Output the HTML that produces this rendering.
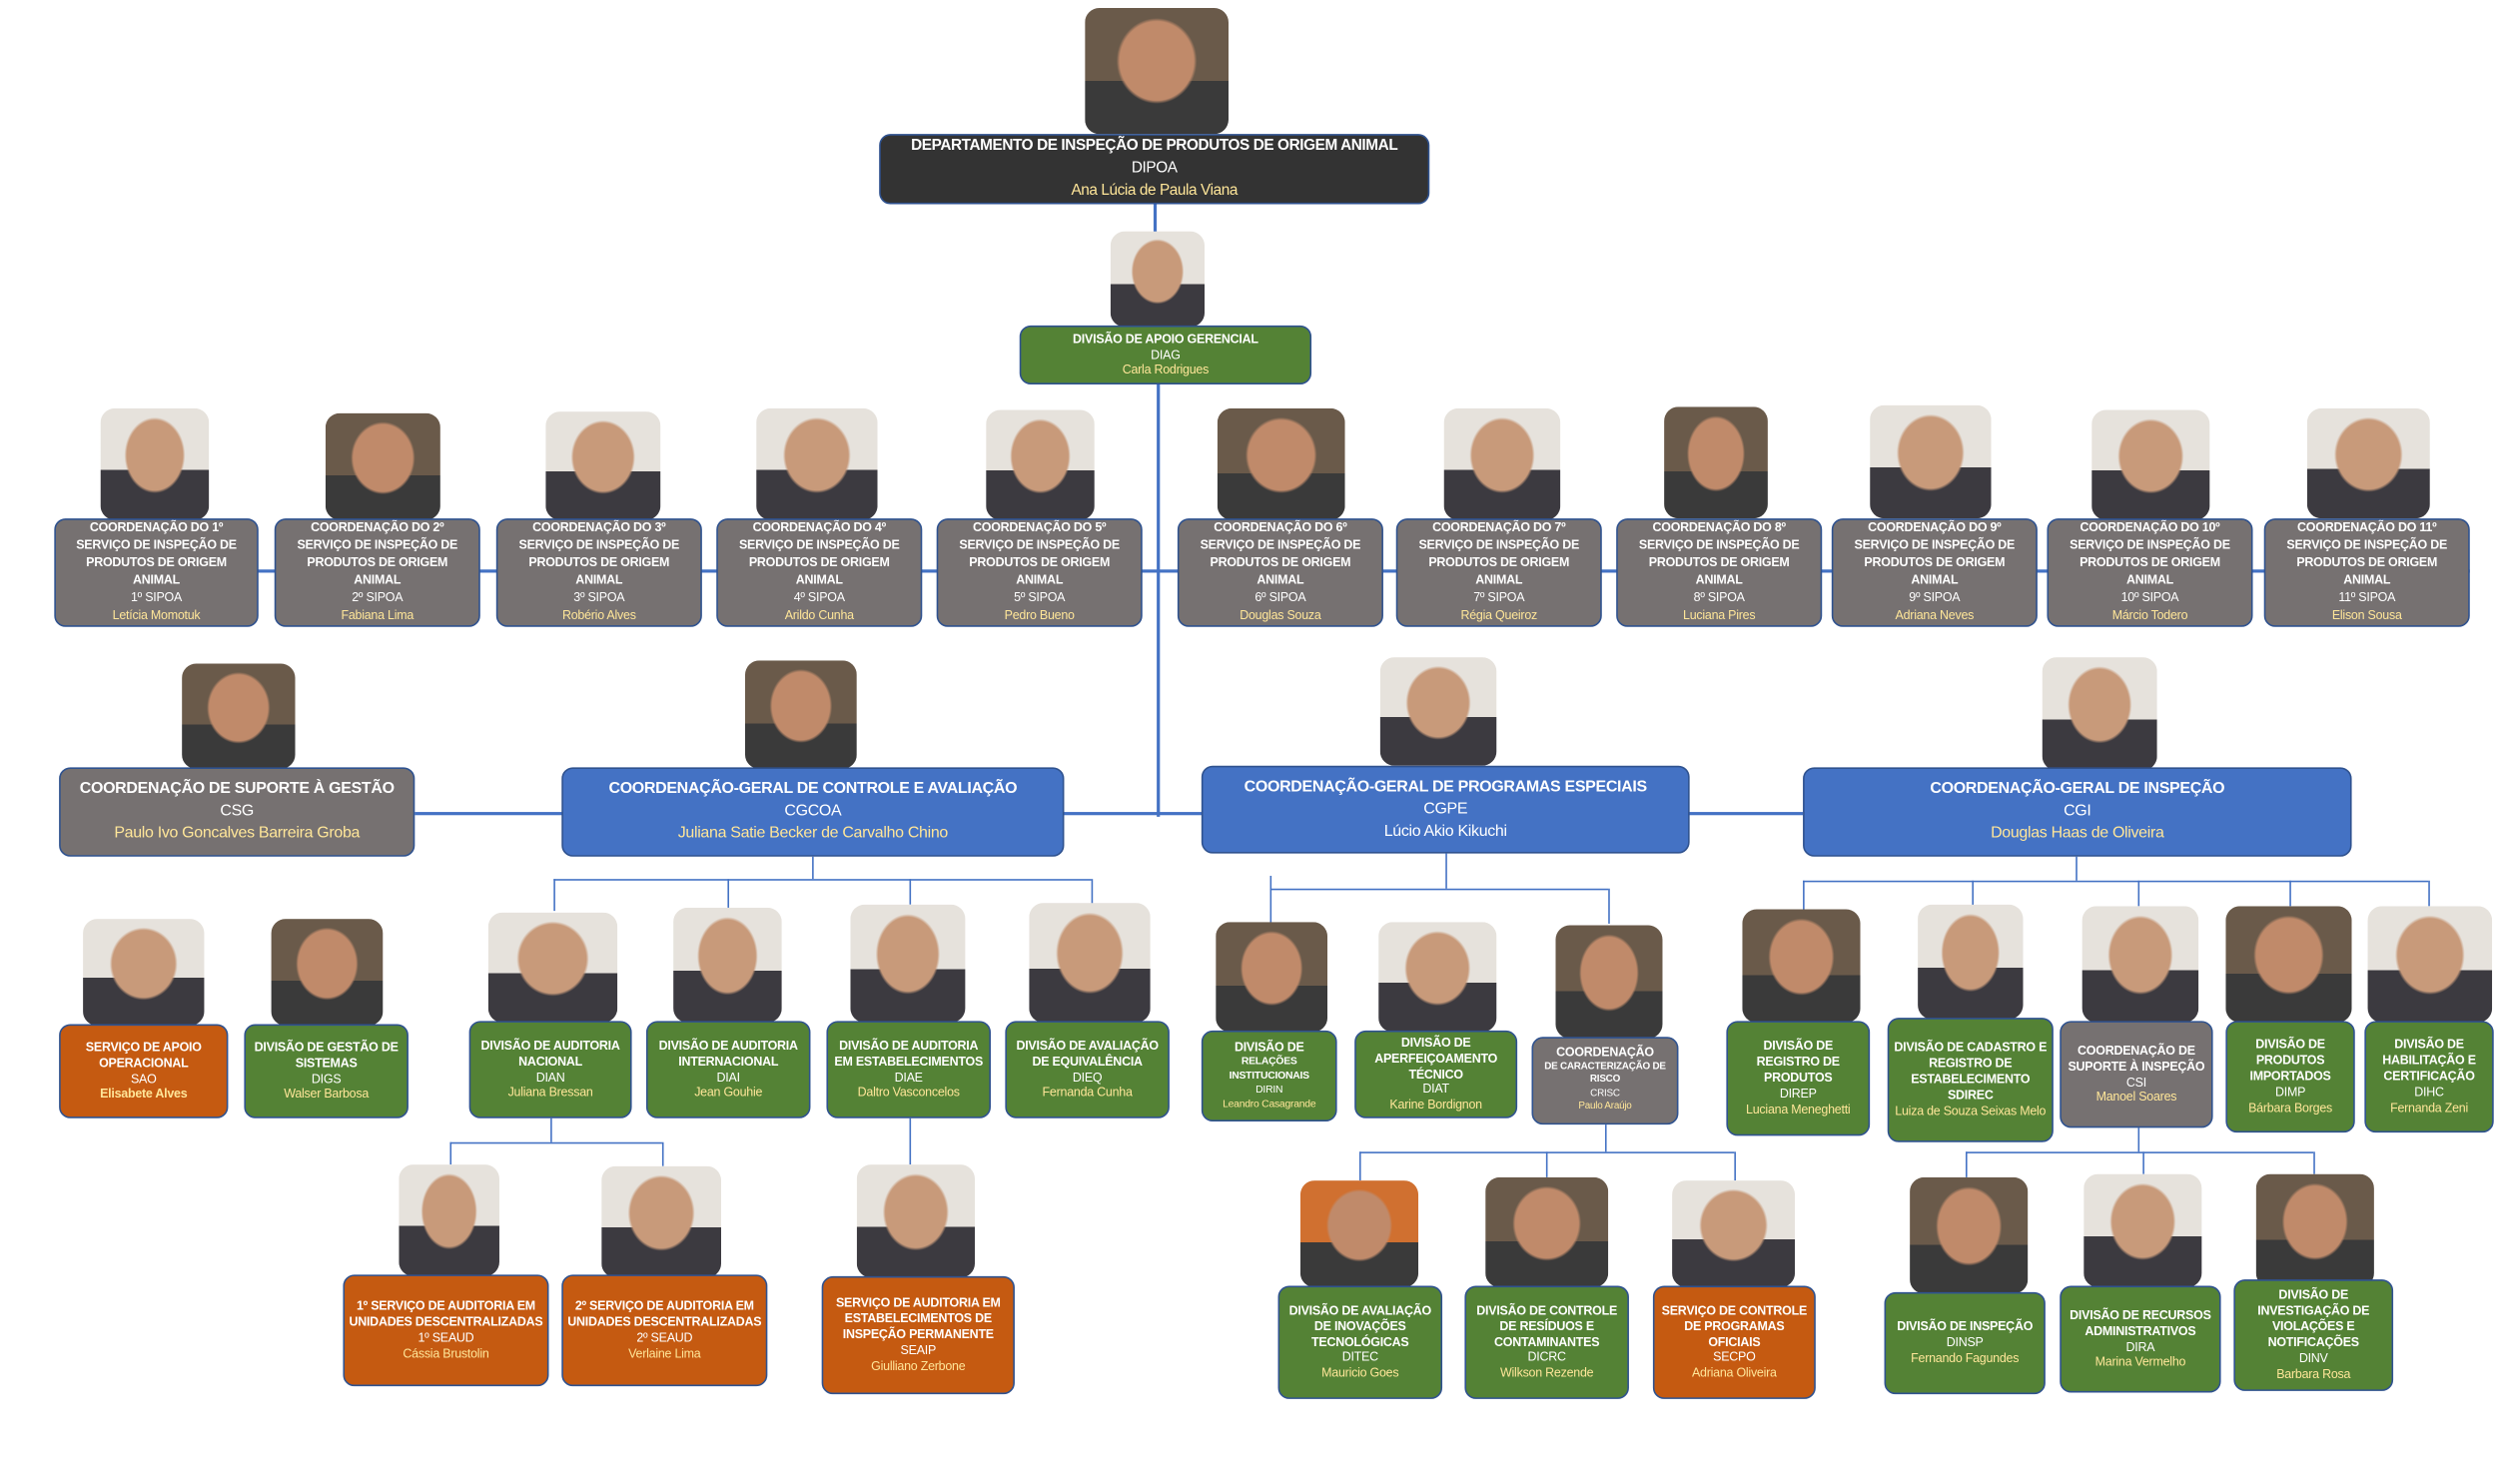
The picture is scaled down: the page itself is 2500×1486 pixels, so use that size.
<!DOCTYPE html>
<html><head><meta charset="utf-8"><style>
html,body{margin:0;padding:0;background:#fff;width:2500px;height:1485px;overflow:hidden}
#w{position:absolute;left:0;top:0;width:1565px;height:930px;transform:scale(1.5974);transform-origin:0 0;font-family:"Liberation Sans",sans-serif}
.b{position:absolute;box-sizing:border-box;border:1px solid #2f528f;border-radius:7px;color:#fff;text-align:center;display:flex;flex-direction:column;justify-content:center;font-size:7.8px;line-height:9.9px;letter-spacing:-0.15px;overflow:hidden;padding:0 2px}
.b b{font-weight:bold}
.y{color:#ffe699}
.g{background:#548235}.k{background:#767171}.u{background:#4472c4}.o{background:#c55a11}.d{background:#333}
.s{padding:0 12px;line-height:10.9px}
.p{position:absolute;border-radius:9px;background:radial-gradient(ellipse 28% 34% at 50% 42%,#c89a7a 0 92%,transparent 100%),linear-gradient(#e6e2dc 0 55%,#3c3a40 55%)}
.p.dk{background:radial-gradient(ellipse 28% 34% at 50% 42%,#c08a6a 0 92%,transparent 100%),linear-gradient(#6a5a4a 0 58%,#3a3a3a 58%)}
.l{position:absolute;background:#4472c4}
.big{font-size:10px;line-height:14px;letter-spacing:-0.2px}
.top{font-size:9.6px;line-height:14px;letter-spacing:-0.25px}
</style></head><body><div id="w">
<div class="l" style="left:723px;top:127px;width:2px;height:19px"></div>
<div class="l" style="left:725px;top:240px;width:2px;height:272px"></div>
<div class="l" style="left:100px;top:357px;width:1448px;height:2px"></div>
<div class="l" style="left:260px;top:509px;width:870px;height:2px"></div>
<div class="l" style="left:509px;top:537px;width:1px;height:14px"></div>
<div class="l" style="left:347px;top:551px;width:337px;height:1px"></div>
<div class="l" style="left:347px;top:551px;width:1px;height:20px"></div>
<div class="l" style="left:456px;top:551px;width:1px;height:18px"></div>
<div class="l" style="left:570px;top:551px;width:1px;height:16px"></div>
<div class="l" style="left:684px;top:551px;width:1px;height:16px"></div>
<div class="l" style="left:906px;top:535px;width:1px;height:22px"></div>
<div class="l" style="left:796px;top:557px;width:212px;height:1px"></div>
<div class="l" style="left:796px;top:549px;width:1px;height:30px"></div>
<div class="l" style="left:1008px;top:557px;width:1px;height:22px"></div>
<div class="l" style="left:1301px;top:537px;width:1px;height:15px"></div>
<div class="l" style="left:1130px;top:552px;width:392px;height:1px"></div>
<div class="l" style="left:1130px;top:552px;width:1px;height:18px"></div>
<div class="l" style="left:1236px;top:552px;width:1px;height:16px"></div>
<div class="l" style="left:1340px;top:552px;width:1px;height:16px"></div>
<div class="l" style="left:1435px;top:552px;width:1px;height:16px"></div>
<div class="l" style="left:1522px;top:552px;width:1px;height:16px"></div>
<div class="l" style="left:345px;top:701px;width:1px;height:15px"></div>
<div class="l" style="left:282px;top:716px;width:133px;height:1px"></div>
<div class="l" style="left:282px;top:716px;width:1px;height:14px"></div>
<div class="l" style="left:415px;top:716px;width:1px;height:15px"></div>
<div class="l" style="left:570px;top:701px;width:1px;height:29px"></div>
<div class="l" style="left:1006px;top:705px;width:1px;height:17px"></div>
<div class="l" style="left:852px;top:722px;width:235px;height:1px"></div>
<div class="l" style="left:852px;top:722px;width:1px;height:18px"></div>
<div class="l" style="left:969px;top:722px;width:1px;height:16px"></div>
<div class="l" style="left:1087px;top:722px;width:1px;height:18px"></div>
<div class="l" style="left:1340px;top:707px;width:1px;height:15px"></div>
<div class="l" style="left:1232px;top:722px;width:218px;height:1px"></div>
<div class="l" style="left:1232px;top:722px;width:1px;height:16px"></div>
<div class="l" style="left:1343px;top:722px;width:1px;height:14px"></div>
<div class="l" style="left:1450px;top:722px;width:1px;height:14px"></div>

<div class="p dk" style="left:680px;top:5px;width:90px;height:79px"></div>
<div class="b d top" style="left:551px;top:84px;width:345px;height:44px"><b style="white-space:nowrap">DEPARTAMENTO DE INSPEÇÃO DE PRODUTOS DE ORIGEM ANIMAL</b><span>DIPOA</span><span class="y">Ana Lúcia de Paula Viana</span></div>
<div class="p" style="left:696px;top:145px;width:59px;height:60px"></div>
<div class="b g" style="left:639px;top:204px;width:183px;height:37px"><b>DIVISÃO DE APOIO GERENCIAL</b><span>DIAG</span><span class="y">Carla Rodrigues</span></div>

<div class="p" style="left:63px;top:256px;width:68px;height:70px"></div>
<div class="b k s" style="left:34px;top:325px;width:128px;height:68px"><b>COORDENAÇÃO DO 1º SERVIÇO DE INSPEÇÃO DE PRODUTOS DE ORIGEM ANIMAL</b><span>1º SIPOA</span><span class="y">Letícia Momotuk</span></div>
<div class="p dk" style="left:204px;top:259px;width:72px;height:67px"></div>
<div class="b k s" style="left:172px;top:325px;width:129px;height:68px"><b>COORDENAÇÃO DO 2º SERVIÇO DE INSPEÇÃO DE PRODUTOS DE ORIGEM ANIMAL</b><span>2º SIPOA</span><span class="y">Fabiana Lima</span></div>
<div class="p" style="left:342px;top:258px;width:72px;height:68px"></div>
<div class="b k s" style="left:311px;top:325px;width:129px;height:68px"><b>COORDENAÇÃO DO 3º SERVIÇO DE INSPEÇÃO DE PRODUTOS DE ORIGEM ANIMAL</b><span>3º SIPOA</span><span class="y">Robério Alves</span></div>
<div class="p" style="left:474px;top:256px;width:76px;height:70px"></div>
<div class="b k s" style="left:449px;top:325px;width:129px;height:68px"><b>COORDENAÇÃO DO 4º SERVIÇO DE INSPEÇÃO DE PRODUTOS DE ORIGEM ANIMAL</b><span>4º SIPOA</span><span class="y">Arildo Cunha</span></div>
<div class="p" style="left:618px;top:257px;width:68px;height:69px"></div>
<div class="b k s" style="left:587px;top:325px;width:129px;height:68px"><b>COORDENAÇÃO DO 5º SERVIÇO DE INSPEÇÃO DE PRODUTOS DE ORIGEM ANIMAL</b><span>5º SIPOA</span><span class="y">Pedro Bueno</span></div>
<div class="p dk" style="left:763px;top:256px;width:80px;height:70px"></div>
<div class="b k s" style="left:738px;top:325px;width:129px;height:68px"><b>COORDENAÇÃO DO 6º SERVIÇO DE INSPEÇÃO DE PRODUTOS DE ORIGEM ANIMAL</b><span>6º SIPOA</span><span class="y">Douglas Souza</span></div>
<div class="p" style="left:905px;top:256px;width:73px;height:70px"></div>
<div class="b k s" style="left:875px;top:325px;width:129px;height:68px"><b>COORDENAÇÃO DO 7º SERVIÇO DE INSPEÇÃO DE PRODUTOS DE ORIGEM ANIMAL</b><span>7º SIPOA</span><span class="y">Régia Queiroz</span></div>
<div class="p dk" style="left:1043px;top:255px;width:65px;height:70px"></div>
<div class="b k s" style="left:1013px;top:325px;width:129px;height:68px"><b>COORDENAÇÃO DO 8º SERVIÇO DE INSPEÇÃO DE PRODUTOS DE ORIGEM ANIMAL</b><span>8º SIPOA</span><span class="y">Luciana Pires</span></div>
<div class="p" style="left:1172px;top:254px;width:76px;height:71px"></div>
<div class="b k s" style="left:1148px;top:325px;width:129px;height:68px"><b>COORDENAÇÃO DO 9º SERVIÇO DE INSPEÇÃO DE PRODUTOS DE ORIGEM ANIMAL</b><span>9º SIPOA</span><span class="y">Adriana Neves</span></div>
<div class="p" style="left:1311px;top:257px;width:74px;height:69px"></div>
<div class="b k s" style="left:1283px;top:325px;width:129px;height:68px"><b>COORDENAÇÃO DO 10º SERVIÇO DE INSPEÇÃO DE PRODUTOS DE ORIGEM ANIMAL</b><span>10º SIPOA</span><span class="y">Márcio Todero</span></div>
<div class="p" style="left:1446px;top:256px;width:77px;height:69px"></div>
<div class="b k s" style="left:1419px;top:325px;width:129px;height:68px"><b>COORDENAÇÃO DO 11º SERVIÇO DE INSPEÇÃO DE PRODUTOS DE ORIGEM ANIMAL</b><span>11º SIPOA</span><span class="y">Elison Sousa</span></div>

<div class="p dk" style="left:114px;top:416px;width:71px;height:66px"></div>
<div class="b k big" style="left:37px;top:481px;width:223px;height:56px"><b>COORDENAÇÃO DE SUPORTE À GESTÃO</b><span>CSG</span><span class="y">Paulo Ivo Goncalves Barreira Groba</span></div>
<div class="p dk" style="left:467px;top:414px;width:70px;height:68px"></div>
<div class="b u big" style="left:352px;top:481px;width:315px;height:56px"><b>COORDENAÇÃO-GERAL DE CONTROLE E AVALIAÇÃO</b><span>CGCOA</span><span class="y">Juliana Satie Becker de Carvalho Chino</span></div>
<div class="p" style="left:865px;top:412px;width:73px;height:68px"></div>
<div class="b u big" style="left:753px;top:480px;width:306px;height:55px"><b>COORDENAÇÃO-GERAL DE PROGRAMAS ESPECIAIS</b><span>CGPE</span><span>Lúcio Akio Kikuchi</span></div>
<div class="p" style="left:1280px;top:412px;width:72px;height:71px"></div>
<div class="b u big" style="left:1130px;top:481px;width:344px;height:56px"><b>COORDENAÇÃO-GERAL DE INSPEÇÃO</b><span>CGI</span><span class="y">Douglas Haas de Oliveira</span></div>

<div class="p" style="left:52px;top:576px;width:76px;height:67px"></div>
<div class="b o" style="left:37px;top:642px;width:106px;height:59px"><b>SERVIÇO DE APOIO OPERACIONAL</b><span>SAO</span><b class="y">Elisabete Alves</b></div>
<div class="p dk" style="left:170px;top:576px;width:70px;height:67px"></div>
<div class="b g" style="left:153px;top:642px;width:103px;height:59px"><b>DIVISÃO DE GESTÃO DE SISTEMAS</b><span>DIGS</span><span class="y">Walser Barbosa</span></div>
<div class="p" style="left:306px;top:572px;width:81px;height:69px"></div>
<div class="b g" style="left:294px;top:640px;width:102px;height:61px"><b>DIVISÃO DE AUDITORIA NACIONAL</b><span>DIAN</span><span class="y">Juliana Bressan</span></div>
<div class="p" style="left:422px;top:569px;width:68px;height:72px"></div>
<div class="b g" style="left:405px;top:640px;width:103px;height:61px"><b>DIVISÃO DE AUDITORIA INTERNACIONAL</b><span>DIAI</span><span class="y">Jean Gouhie</span></div>
<div class="p" style="left:533px;top:567px;width:72px;height:74px"></div>
<div class="b g" style="left:518px;top:640px;width:103px;height:61px"><b>DIVISÃO DE AUDITORIA EM ESTABELECIMENTOS</b><span>DIAE</span><span class="y">Daltro Vasconcelos</span></div>
<div class="p" style="left:645px;top:566px;width:76px;height:75px"></div>
<div class="b g" style="left:630px;top:640px;width:103px;height:61px"><b>DIVISÃO DE AVALIAÇÃO DE EQUIVALÊNCIA</b><span>DIEQ</span><span class="y">Fernanda Cunha</span></div>
<div class="p dk" style="left:762px;top:578px;width:70px;height:69px"></div>
<div class="b g" style="left:753px;top:646px;width:85px;height:57px;font-size:6.5px;line-height:9px"><b style="font-size:7.8px">DIVISÃO DE</b><b>RELAÇÕES INSTITUCIONAIS</b><span>DIRIN</span><span class="y">Leandro Casagrande</span></div>
<div class="p" style="left:864px;top:578px;width:74px;height:69px"></div>
<div class="b g" style="left:849px;top:646px;width:102px;height:55px"><b>DIVISÃO DE APERFEIÇOAMENTO TÉCNICO</b><span>DIAT</span><span class="y">Karine Bordignon</span></div>
<div class="p dk" style="left:975px;top:580px;width:67px;height:71px"></div>
<div class="b k" style="left:960px;top:650px;width:92px;height:55px;font-size:6.2px;line-height:8.6px"><b style="font-size:7.8px">COORDENAÇÃO</b><b>DE CARACTERIZAÇÃO DE RISCO</b><span>CRISC</span><span class="y">Paulo Araújo</span></div>
<div class="p dk" style="left:1092px;top:570px;width:74px;height:71px"></div>
<div class="b g" style="left:1082px;top:640px;width:90px;height:72px"><b>DIVISÃO DE REGISTRO DE PRODUTOS</b><span>DIREP</span><span class="y">Luciana Meneghetti</span></div>
<div class="p" style="left:1202px;top:567px;width:66px;height:72px"></div>
<div class="b g" style="left:1183px;top:638px;width:104px;height:78px"><b>DIVISÃO DE CADASTRO E REGISTRO DE ESTABELECIMENTO</b><b>SDIREC</b><span class="y">Luiza de Souza Seixas Melo</span></div>
<div class="p" style="left:1305px;top:568px;width:73px;height:73px"></div>
<div class="b k" style="left:1291px;top:640px;width:96px;height:67px"><b>COORDENAÇÃO DE SUPORTE À INSPEÇÃO</b><span>CSI</span><span class="y">Manoel Soares</span></div>
<div class="p dk" style="left:1395px;top:568px;width:79px;height:73px"></div>
<div class="b g" style="left:1395px;top:640px;width:81px;height:70px"><b>DIVISÃO DE PRODUTOS IMPORTADOS</b><span>DIMP</span><span class="y">Bárbara Borges</span></div>
<div class="p" style="left:1484px;top:568px;width:78px;height:73px"></div>
<div class="b g" style="left:1482px;top:640px;width:81px;height:70px"><b>DIVISÃO DE HABILITAÇÃO E CERTIFICAÇÃO</b><span>DIHC</span><span class="y">Fernanda Zeni</span></div>

<div class="p" style="left:250px;top:730px;width:63px;height:70px"></div>
<div class="b o" style="left:215px;top:799px;width:129px;height:70px"><b>1º SERVIÇO DE AUDITORIA EM UNIDADES DESCENTRALIZADAS</b><span>1º SEAUD</span><span class="y">Cássia Brustolin</span></div>
<div class="p" style="left:377px;top:731px;width:75px;height:70px"></div>
<div class="b o" style="left:352px;top:799px;width:129px;height:70px"><b>2º SERVIÇO DE AUDITORIA EM UNIDADES DESCENTRALIZADAS</b><span>2º SEAUD</span><span class="y">Verlaine Lima</span></div>
<div class="p" style="left:537px;top:730px;width:74px;height:71px"></div>
<div class="b o" style="left:515px;top:800px;width:121px;height:74px"><b>SERVIÇO DE AUDITORIA EM ESTABELECIMENTOS DE INSPEÇÃO PERMANENTE</b><span>SEAIP</span><span class="y">Giulliano Zerbone</span></div>
<div class="p" style="left:815px;top:740px;width:74px;height:67px;background:radial-gradient(ellipse 28% 34% at 50% 42%,#c08a6a 0 92%,transparent 100%),linear-gradient(#d07030 0 58%,#3a3a3a 58%)"></div>
<div class="b g" style="left:801px;top:806px;width:103px;height:71px"><b>DIVISÃO DE AVALIAÇÃO DE INOVAÇÕES TECNOLÓGICAS</b><span>DITEC</span><span class="y">Mauricio Goes</span></div>
<div class="p dk" style="left:931px;top:738px;width:77px;height:69px"></div>
<div class="b g" style="left:918px;top:806px;width:103px;height:71px"><b>DIVISÃO DE CONTROLE DE RESÍDUOS E CONTAMINANTES</b><span>DICRC</span><span class="y">Wilkson Rezende</span></div>
<div class="p" style="left:1048px;top:740px;width:77px;height:67px"></div>
<div class="b o" style="left:1036px;top:806px;width:102px;height:71px"><b>SERVIÇO DE CONTROLE DE PROGRAMAS OFICIAIS</b><span>SECPO</span><span class="y">Adriana Oliveira</span></div>
<div class="p dk" style="left:1197px;top:738px;width:74px;height:73px"></div>
<div class="b g" style="left:1181px;top:810px;width:101px;height:64px"><b>DIVISÃO DE INSPEÇÃO</b><span>DINSP</span><span class="y">Fernando Fagundes</span></div>
<div class="p" style="left:1306px;top:736px;width:74px;height:71px"></div>
<div class="b g" style="left:1291px;top:806px;width:101px;height:67px"><b>DIVISÃO DE RECURSOS ADMINISTRATIVOS</b><span>DIRA</span><span class="y">Marina Vermelho</span></div>
<div class="p dk" style="left:1414px;top:736px;width:74px;height:71px"></div>
<div class="b g" style="left:1400px;top:802px;width:100px;height:70px"><b>DIVISÃO DE INVESTIGAÇÃO DE VIOLAÇÕES E NOTIFICAÇÕES</b><span>DINV</span><span class="y">Barbara Rosa</span></div>
</div></body></html>
